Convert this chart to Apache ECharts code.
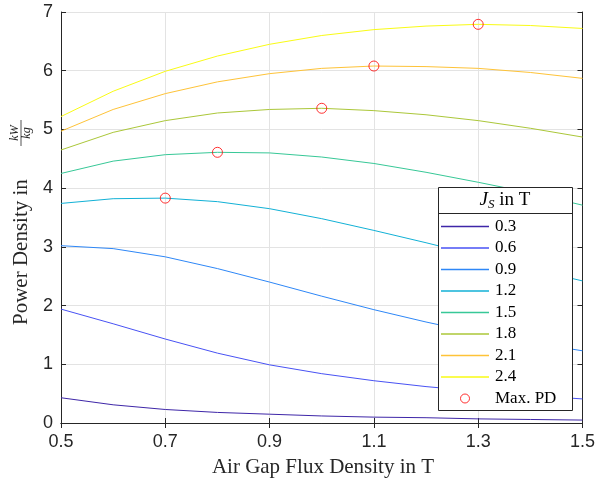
<!DOCTYPE html>
<html lang="en">
<head>
    <meta charset="UTF-8">
    <title>Power Density</title>
    <script src="https://cdn.jsdelivr.net/npm/echarts@6/dist/echarts.min.js"></script>
</head>
<body style="margin:0;background:#fff;">
<div id="pic1" style="width:598px;height:483px;"></div>

<script>
    // air gap flux density (T)
    var fluxDensity = [0.5, 0.6, 0.7, 0.8, 0.9, 1.0, 1.1, 1.2, 1.3, 1.4, 1.5];
    // current loading J_S values (legend)
    var jsNames = ['0.3', '0.6', '0.9', '1.2', '1.5', '1.8', '2.1', '2.4'];
    // power density curves, one per J_S
    var pd03 = [0.43, 0.31, 0.23, 0.18, 0.15, 0.12, 0.10, 0.09, 0.07, 0.06, 0.05];
    var pd06 = [1.94, 1.69, 1.43, 1.19, 0.99, 0.84, 0.72, 0.62, 0.54, 0.47, 0.41];
    var pd09 = [3.02, 2.97, 2.83, 2.63, 2.40, 2.16, 1.93, 1.72, 1.53, 1.37, 1.23];
    var pd12 = [3.74, 3.82, 3.83, 3.77, 3.65, 3.48, 3.28, 3.07, 2.85, 2.63, 2.42];
    var pd15 = [4.25, 4.46, 4.57, 4.61, 4.60, 4.53, 4.42, 4.27, 4.10, 3.92, 3.71];
    var pd18 = [4.65, 4.95, 5.15, 5.28, 5.34, 5.36, 5.32, 5.25, 5.15, 5.02, 4.87];
    var pd21 = [4.97, 5.34, 5.61, 5.81, 5.95, 6.04, 6.08, 6.07, 6.04, 5.97, 5.87];
    var pd24 = [5.22, 5.65, 5.99, 6.25, 6.45, 6.60, 6.70, 6.76, 6.79, 6.77, 6.72];
    var allPd = [pd03, pd06, pd09, pd12, pd15, pd18, pd21, pd24];
    // maximum power density markers
    var maxX = [0.7, 0.8, 1.0, 1.1, 1.3];
    var maxY = [3.83, 4.61, 5.36, 6.08, 6.79];

    var colors = ['#3e26a8', '#4852f4', '#2e87f7', '#12b1d6', '#37c897', '#abc739', '#fec338', '#f9fb15'];

    var myCharts1 = echarts.init(document.getElementById('pic1'));

    var series = [];
    var legendData = [];
    for (var i = 0; i < jsNames.length; i++) {
        series.push({
            name: jsNames[i],
            type: 'line',
            symbol: 'none',
            smooth: false,
            lineStyle: {color: colors[i], width: 1},
            itemStyle: {color: colors[i]},
            data: fluxDensity.map(function (x, k) { return [x, allPd[i][k]]; })
        });
        //图例里只画一条线
        legendData.push({name: jsNames[i], icon: 'path://M0,0L48,0L48,1.3L0,1.3Z'});
    }
    series.push({
        name: 'Max. PD',
        type: 'scatter',
        symbol: 'circle',
        symbolSize: 10,
        itemStyle: {color: 'rgba(0,0,0,0)', borderColor: '#ff0000', borderWidth: 1},
        z: 5,
        data: maxX.map(function (x, k) { return [x, maxY[k]]; })
    });
    legendData.push({name: 'Max. PD', icon: 'circle',
        itemStyle: {color: 'rgba(0,0,0,0)', borderColor: '#ff0000', borderWidth: 1}});

    var tickFont = {fontFamily: 'Liberation Sans', fontSize: 18, color: '#262626'};
    var axisLine = {lineStyle: {color: '#262626', width: 1}};
    var serif = '"Liberation Serif"';

    var option1 = {
        backgroundColor: 'white',
        animation: false,
        grid: {left: 61, right: 13, top: 12, bottom: 60},
        xAxis: [{
            type: 'value', min: 0.5, max: 1.5, interval: 0.2,
            axisLine: axisLine,
            axisTick: {inside: true, length: 5, lineStyle: {color: '#262626'}},
            axisLabel: Object.assign({margin: 10, formatter: function (v) { return v.toFixed(1); }}, tickFont),
            splitLine: {show: true, lineStyle: {color: '#e3e3e3'}}
        }, {
            type: 'value', position: 'top', min: 0.5, max: 1.5, interval: 0.2,
            axisLine: axisLine,
            axisTick: {inside: true, length: 5, lineStyle: {color: '#262626'}},
            axisLabel: {show: false},
            splitLine: {show: false}
        }],
        yAxis: [{
            type: 'value', min: 0, max: 7, interval: 1,
            axisLine: axisLine,
            axisTick: {inside: true, length: 5, lineStyle: {color: '#262626'}},
            axisLabel: Object.assign({margin: 8}, tickFont),
            splitLine: {show: true, lineStyle: {color: '#e3e3e3'}}
        }, {
            type: 'value', position: 'right', min: 0, max: 7, interval: 1,
            axisLine: axisLine,
            axisTick: {inside: true, length: 5, lineStyle: {color: '#262626'}},
            axisLabel: {show: false},
            splitLine: {show: false}
        }],
        legend: {
            orient: 'vertical',
            left: 436,
            top: 218,
            padding: [0, 5],
            itemWidth: 48,
            itemHeight: 9,
            itemGap: 4.5,
            z: 20,
            textStyle: {fontFamily: 'Liberation Serif', fontSize: 17, color: '#000', padding: [0, 0, 0, 1]},
            data: legendData
        },
        graphic: [
            {
                type: 'rect', z: 10,
                shape: {x: 438.5, y: 187.5, width: 134, height: 223},
                style: {fill: '#fff', stroke: '#262626', lineWidth: 1}
            },
            {
                type: 'line', z: 11,
                shape: {x1: 438.5, y1: 213.5, x2: 572.5, y2: 213.5},
                style: {stroke: '#262626', lineWidth: 1}
            },
            {
                type: 'text', z: 11, x: 505, y: 200,
                style: {
                    text: '{i|J}{s|S} in T',
                    align: 'center', verticalAlign: 'middle',
                    font: '19px ' + serif, fill: '#000',
                    rich: {
                        i: {fontFamily: 'Liberation Serif', fontStyle: 'italic', fontSize: 19},
                        s: {fontFamily: 'Liberation Serif', fontStyle: 'italic', fontSize: 13, padding: [9, 0, 0, 0]}
                    }
                }
            },
            {
                type: 'text', z: 11, x: 323, y: 467,
                style: {
                    text: 'Air Gap Flux Density in T',
                    align: 'center', verticalAlign: 'middle',
                    font: '21px ' + serif, fill: '#262626'
                }
            },
            {
                type: 'group', x: 21, y: 325, rotation: Math.PI / 2, z: 11,
                children: [
                    {
                        type: 'text', x: 0, y: 0,
                        style: {text: 'Power Density in', align: 'left', verticalAlign: 'middle',
                            font: '21px ' + serif, fill: '#262626'}
                    },
                    {
                        type: 'text', x: 192, y: -6,
                        style: {text: 'kW', align: 'center', verticalAlign: 'middle',
                            font: 'italic 12px ' + serif, fill: '#262626'}
                    },
                    {
                        type: 'line',
                        shape: {x1: 179, y1: 0, x2: 205, y2: 0},
                        style: {stroke: '#262626', lineWidth: 0.8}
                    },
                    {
                        type: 'text', x: 192, y: 6,
                        style: {text: 'kg', align: 'center', verticalAlign: 'middle',
                            font: 'italic 12px ' + serif, fill: '#262626'}
                    }
                ]
            }
        ],
        series: series
    };

    myCharts1.setOption(option1);
</script>
</body>
</html>
